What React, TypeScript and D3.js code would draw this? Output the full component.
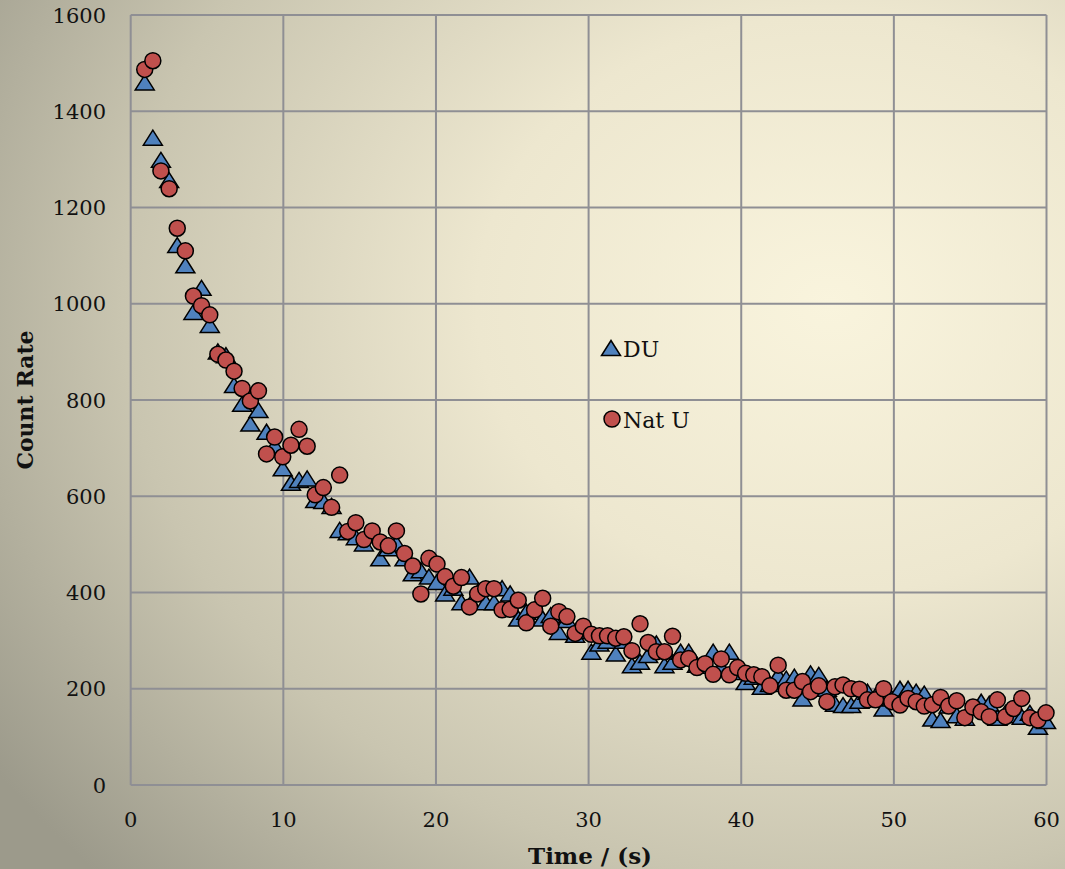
import React from "react";
import * as d3 from "d3";

// Sample times (s), shared by both detectors
const times: number[] = [
  0.92, 1.45, 1.98, 2.52, 3.05, 3.58, 4.11, 4.64, 5.18, 5.71,
  6.24, 6.77, 7.30, 7.84, 8.37, 8.90, 9.43, 9.96, 10.50, 11.03,
  11.56, 12.09, 12.62, 13.16, 13.69, 14.22, 14.75, 15.28, 15.82, 16.35,
  16.88, 17.41, 17.94, 18.48, 19.01, 19.54, 20.07, 20.60, 21.14, 21.67,
  22.20, 22.73, 23.26, 23.80, 24.33, 24.86, 25.39, 25.92, 26.46, 26.99,
  27.52, 28.05, 28.58, 29.12, 29.65, 30.18, 30.71, 31.24, 31.78, 32.31,
  32.84, 33.37, 33.90, 34.44, 34.97, 35.50, 36.03, 36.56, 37.10, 37.63,
  38.16, 38.69, 39.22, 39.76, 40.29, 40.82, 41.35, 41.88, 42.42, 42.95,
  43.48, 44.01, 44.54, 45.08, 45.61, 46.14, 46.67, 47.20, 47.74, 48.27,
  48.80, 49.33, 49.86, 50.40, 50.93, 51.46, 51.99, 52.52, 53.06, 53.59,
  54.12, 54.65, 55.18, 55.72, 56.25, 56.78, 57.31, 57.84, 58.38, 58.91,
  59.44, 59.97,
];

// Count rate, depleted uranium
const duCounts: number[] = [
  1460, 1345, 1299, 1257, 1122, 1080, 983, 1033, 956, 901,
  893, 831, 792, 751, 779, 734, 705, 658, 628, 634,
  637, 592, 590, 580, 530, 525, 515, 502, 526, 471,
  492, 502, 471, 440, 446, 433, 422, 398, 410, 380,
  433, 400, 380, 380, 409, 398, 346, 360, 365, 346,
  353, 318, 343, 312, 320, 277, 294, 300, 273, 300,
  249, 256, 270, 294, 249, 256, 277, 277, 250, 248,
  277, 245, 277, 235, 214, 225, 204, 210, 228, 221,
  225, 180, 232, 229, 200, 169, 166, 166, 175, 194,
  185, 159, 180, 200, 200, 194, 190, 138, 135, 165,
  145, 140, 160, 173, 169, 140, 150, 145, 142, 150,
  121, 133,
];

// Count rate, natural uranium
const natUCounts: number[] = [
  1487, 1505, 1276, 1239, 1157, 1110, 1016, 996, 977, 895,
  883, 860, 824, 798, 819, 688, 723, 682, 706, 739,
  704, 603, 618, 577, 644, 527, 545, 510, 528, 505,
  497, 528, 481, 455, 397, 471, 459, 433, 413, 431,
  370, 397, 408, 408, 364, 365, 384, 337, 364, 388,
  330, 360, 350, 315, 330, 313, 310, 310, 305, 308,
  279, 335, 296, 277, 277, 309, 260, 263, 244, 252,
  230, 262, 229, 244, 232, 229, 225, 206, 249, 197,
  197, 215, 194, 206, 173, 204, 208, 200, 199, 177,
  177, 200, 173, 166, 180, 173, 164, 167, 182, 164,
  175, 140, 162, 152, 142, 177, 142, 159, 180, 140,
  135, 150,
];

const xTicks: number[] = [0, 10, 20, 30, 40, 50, 60];
const yTicks: number[] = [0, 200, 400, 600, 800, 1000, 1200, 1400, 1600];

const W = 1065;
const H = 869;
const FONT = "'DejaVu Serif', 'Liberation Serif', serif";
const DU_FILL = "#4f81bd";
const NAT_FILL = "#c0504d";
const GRID = "#8f8f94";

const x = d3.scaleLinear().domain([0, 60]).range([130.7, 1046.5]);
const y = d3.scaleLinear().domain([0, 1600]).range([785, 15]);

const triPath = "M0,-7.5L9.5,7.5L-9.5,7.5Z";

export default function App() {
  const du = times.map((t, i) => ({ t, v: duCounts[i] }));
  const nat = times.map((t, i) => ({ t, v: natUCounts[i] }));

  return (
    <svg
      width={W}
      height={H}
      style={{ position: "absolute", left: 0, top: 0, display: "block" }}
    >
      <defs>
        <radialGradient id="bg" cx="0.78" cy="0.35" r="0.95" gradientUnits="objectBoundingBox">
          <stop offset="0" stopColor="#f9f4dd" />
          <stop offset="0.35" stopColor="#ede7cf" />
          <stop offset="0.7" stopColor="#c9c5b0" />
          <stop offset="1" stopColor="#9c9a8b" />
        </radialGradient>
      </defs>
      <rect x={0} y={0} width={W} height={H} fill="url(#bg)" />

      {/* grid */}
      {yTicks.map((v) => (
        <line
          key={"gy" + v}
          x1={x(0)}
          x2={x(60)}
          y1={y(v)}
          y2={y(v)}
          stroke={GRID}
          strokeWidth={2}
        />
      ))}
      {xTicks.map((v) => (
        <line
          key={"gx" + v}
          x1={x(v)}
          x2={x(v)}
          y1={y(0)}
          y2={y(1600)}
          stroke={GRID}
          strokeWidth={2}
        />
      ))}

      {/* tick labels */}
      {yTicks.map((v) => (
        <text
          key={"ty" + v}
          x={106}
          y={y(v)}
          dy="0.36em"
          textAnchor="end"
          fontFamily={FONT}
          fontSize={21}
          fill="#111"
        >
          {v}
        </text>
      ))}
      {xTicks.map((v) => (
        <text
          key={"tx" + v}
          x={x(v)}
          y={827}
          textAnchor="middle"
          fontFamily={FONT}
          fontSize={21}
          fill="#111"
        >
          {v}
        </text>
      ))}

      {/* axis titles */}
      <text
        x={590}
        y={864}
        textAnchor="middle"
        fontFamily={FONT}
        fontSize={23}
        fontWeight="bold"
        fill="#111"
      >
        Time / (s)
      </text>
      <text
        transform="translate(33,400) rotate(-90)"
        textAnchor="middle"
        fontFamily={FONT}
        fontSize={22}
        fontWeight="bold"
        fill="#111"
      >
        Count Rate
      </text>

      {/* DU series */}
      {du.map((d, i) => (
        <path
          key={"du" + i}
          d={triPath}
          transform={`translate(${x(d.t)},${y(d.v)})`}
          fill={DU_FILL}
          stroke="#000"
          strokeWidth={1.5}
          strokeLinejoin="miter"
        />
      ))}

      {/* Nat U series */}
      {nat.map((d, i) => (
        <circle
          key={"nu" + i}
          cx={x(d.t)}
          cy={y(d.v)}
          r={8}
          fill={NAT_FILL}
          stroke="#000"
          strokeWidth={1.5}
        />
      ))}

      {/* legend */}
      <g>
        <path
          d={triPath}
          transform="translate(611,348)"
          fill={DU_FILL}
          stroke="#000"
          strokeWidth={1.5}
        />
        <text x={623} y={357} fontFamily={FONT} fontSize={22} fill="#111">
          DU
        </text>
        <circle cx={612} cy={419} r={8} fill={NAT_FILL} stroke="#000" strokeWidth={1.5} />
        <text x={623} y={428} fontFamily={FONT} fontSize={22} fill="#111">
          Nat U
        </text>
      </g>
    </svg>
  );
}
